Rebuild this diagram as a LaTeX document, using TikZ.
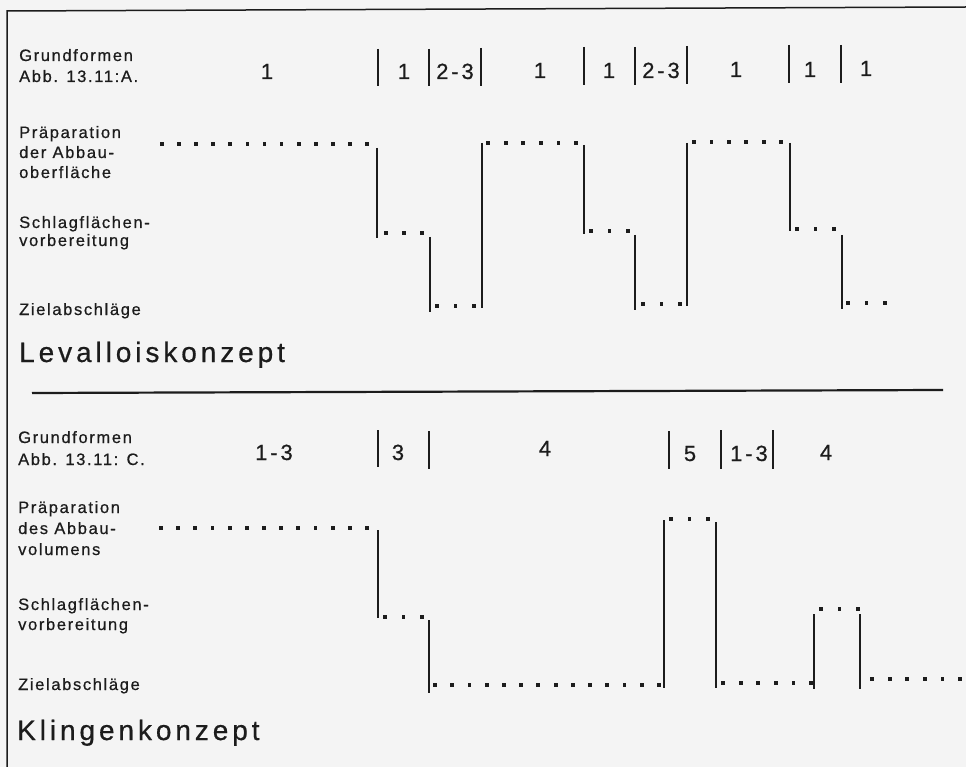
\documentclass[tikz,border=0pt]{standalone}
\usepackage{fontspec}
\setmainfont{Liberation Sans}
\newfontfamily\lblfont[LetterSpace=10,FakeBold=0.6]{Liberation Sans}
\newfontfamily\numfont[LetterSpace=13,FakeBold=0.6]{Liberation Sans}
\newfontfamily\ttlfont[LetterSpace=14,FakeBold=0.6]{Liberation Sans}

\definecolor{paper}{RGB}{244,244,244}
\definecolor{inkc}{RGB}{28,28,28}

% a run of square dots: y, centre of first dot, centre of last dot, number of dots
\newcommand\dotrun[4]{%
  \pgfmathsetmacro\dstep{(#3-#2)/(#4-1)}%
  \pgfmathtruncatemacro\dlast{#4-1}%
  \foreach \k in {0,...,\dlast}{%
    \fill[inkc] ({#2+\k*\dstep-1.9},{#1-1.9}) rectangle ++(3.8,3.8);
  }%
}

\begin{document}
\begin{tikzpicture}[x=1pt,y=-1pt,
  lbl/.style={anchor=base west, inner sep=0pt, text=inkc,
    font=\lblfont\fontsize{16.5}{19}\selectfont},
  num/.style={anchor=base, inner sep=0pt, text=inkc,
    font=\numfont\fontsize{22}{26}\selectfont},
  ttl/.style={anchor=base west, inner sep=0pt, text=inkc,
    font=\ttlfont\fontsize{28}{32}\selectfont},
  bar/.style={draw=inkc, line width=2pt},
  riser/.style={draw=inkc, line width=1.8pt},
  frameline/.style={draw=inkc, line width=1.5pt},
  rulerline/.style={draw=inkc, line width=2.2pt}]

\fill[paper] (0,0) rectangle (966,767);
\useasboundingbox (0,0) rectangle (966,767);

% frame and separating rule
\draw[frameline] (966,7) -- (7,11) -- (7,767);
\draw[rulerline] (32,393) -- (943,390);

% ---------------- Levalloiskonzept ----------------
\node[lbl] (lg1) at (19,61) {Grundformen};
\node[lbl] (lg2) at (19,82) {Abb. 13.11:A.};
\node[lbl] (lp1) at (19,138) {Präparation};
\node[lbl] (lp2) at (19,158) {der Abbau-};
\node[lbl] (lp3) at (19,178) {oberfläche};
\node[lbl] (ls1) at (19,228) {Schlagflächen-};
\node[lbl] (ls2) at (19,246) {vorbereitung};
\node[lbl] (lz1) at (19,315) {Zielabschläge};
\node[ttl] (lt)  at (19,362) {Levalloiskonzept};

% Grundformen sequence
\node[num] (ln1) at (267,79) {1};
\draw[bar] (378,49) -- (378,86);
\node[num] (ln2) at (404,79) {1};
\draw[bar] (429,49) -- (429,86);
\node[num] (ln3) at (455,79) {2-3};
\draw[bar] (481,48) -- (481,86);
\node[num] (ln4) at (540,78) {1};
\draw[bar] (584,47) -- (584,85);
\node[num] (ln5) at (609,78) {1};
\draw[bar] (635,47) -- (635,85);
\node[num] (ln6) at (661,78) {2-3};
\draw[bar] (687,46) -- (687,84);
\node[num] (ln7) at (736,77) {1};
\draw[bar] (789,45) -- (789,83);
\node[num] (ln8) at (810,77) {1};
\draw[bar] (841,45) -- (841,83);
\node[num] (ln9) at (866,76) {1};

% step sequence
\dotrun{144}{162}{367}{13}
\draw[riser] (377,148) -- (377,238);
\dotrun{233}{386}{422}{3}
\draw[riser] (430,237) -- (430,312);
\dotrun{306}{437}{474}{3}
\draw[riser] (482,143) -- (482,308);
\dotrun{143}{488}{576}{6}
\draw[riser] (584,145) -- (584,234);
\dotrun{231}{591}{628}{3}
\draw[riser] (635,235) -- (635,310);
\dotrun{304}{643}{680}{3}
\draw[riser] (687,143) -- (687,306);
\dotrun{142}{694}{781}{6}
\draw[riser] (790,143) -- (790,231);
\dotrun{229}{797}{834}{3}
\draw[riser] (842,235) -- (842,309);
\dotrun{303}{848}{885}{3}

% ---------------- Klingenkonzept ----------------
\node[lbl] (kg1) at (18,443) {Grundformen};
\node[lbl] (kg2) at (18,465) {Abb. 13.11: C.};
\node[lbl] (kp1) at (18,513) {Präparation};
\node[lbl] (kp2) at (18,534) {des Abbau-};
\node[lbl] (kp3) at (18,555) {volumens};
\node[lbl] (ks1) at (18,610) {Schlagflächen-};
\node[lbl] (ks2) at (18,630) {vorbereitung};
\node[lbl] (kz1) at (18,690) {Zielabschläge};
\node[ttl] (kt)  at (17,740) {Klingenkonzept};

% Grundformen sequence
\node[num] (kn1) at (274,460) {1-3};
\draw[bar] (378,430) -- (378,467);
\node[num] (kn2) at (398,460) {3};
\draw[bar] (429,431) -- (429,469);
\node[num] (kn3) at (545,456) {4};
\draw[bar] (669,431) -- (669,469);
\node[num] (kn4) at (690,461) {5};
\draw[bar] (721,430) -- (721,469);
\node[num] (kn5) at (749,461) {1-3};
\draw[bar] (773,430) -- (773,469);
\node[num] (kn6) at (826,460) {4};

% step sequence
\dotrun{528}{161}{367}{13}
\draw[riser] (378,530) -- (378,618);
\dotrun{617}{385}{422}{3}
\draw[riser] (429,620) -- (429,693);
\dotrun{685}{435}{659}{14}
\draw[riser] (664,520) -- (664,688);
\dotrun{519}{671}{708}{3}
\draw[riser] (716,522) -- (716,688);
\dotrun{683}{723}{811}{6}
\draw[riser] (814,614) -- (814,689);
\dotrun{609}{821}{858}{3}
\draw[riser] (860,614) -- (860,689);
\dotrun{679}{872}{960}{6}

\end{tikzpicture}
\end{document}
